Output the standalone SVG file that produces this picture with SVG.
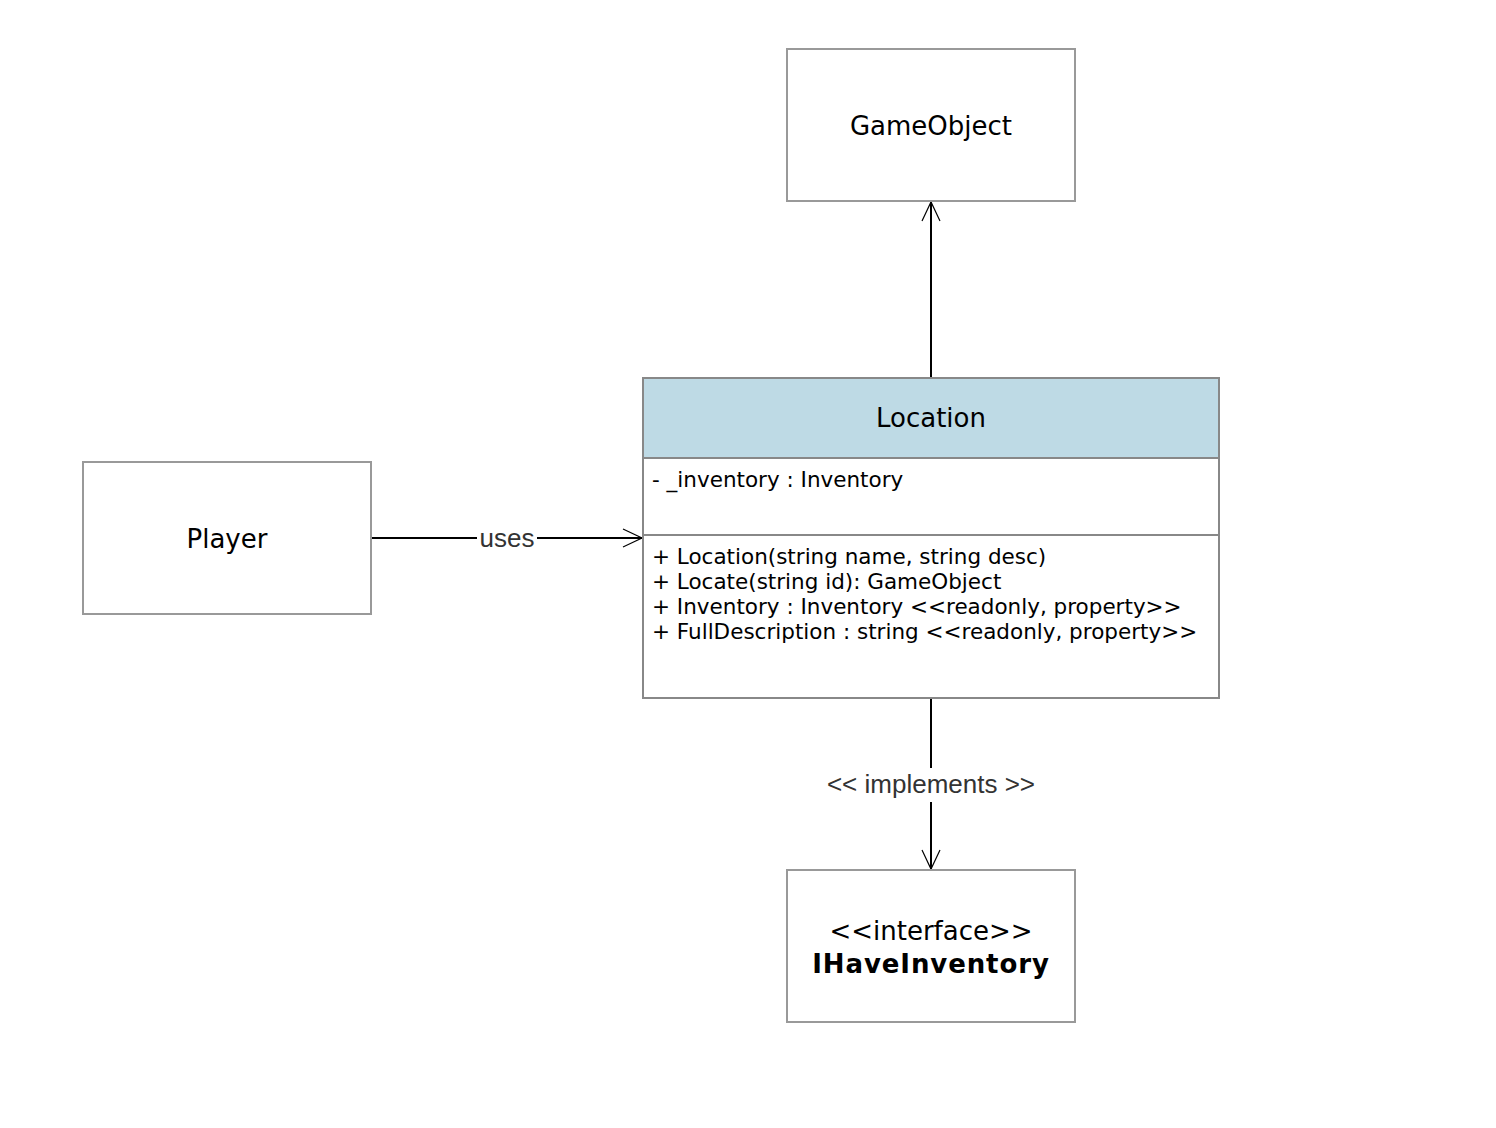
<svg xmlns="http://www.w3.org/2000/svg" width="1496" height="1128" viewBox="0 0 1496 1128">
<style>
  .box{fill:#fff;stroke:#999;stroke-width:2}
  .cls{fill:#fff;stroke:#888;stroke-width:2}
  .hdr{fill:#bedae5;stroke:#888;stroke-width:2}
  .title{font-family:"DejaVu Sans",Verdana,sans-serif;font-size:26px;fill:#000;text-anchor:middle}
  .mem{font-family:"DejaVu Sans",Verdana,sans-serif;font-size:21.5px;fill:#000}
  .lbl{font-family:"Liberation Sans",Arial,sans-serif;font-size:26px;fill:#333;text-anchor:middle}
  .edge{stroke:#000;stroke-width:2;fill:none}
</style>
<defs>
  <marker id="open" markerUnits="userSpaceOnUse" markerWidth="24" markerHeight="24" viewBox="-20 -12 24 24" refX="0" refY="0" orient="auto">
    <path d="M-19,-9 L0,0 L-19,9" fill="none" stroke="#000" stroke-width="1.2"/>
  </marker>
</defs>
<rect width="1496" height="1128" fill="#fff"/>
<g id="connectors">
  <line class="edge" x1="931" y1="378" x2="931" y2="202" stroke="#333" marker-end="url(#open)"/>
  <line class="edge" x1="371" y1="538" x2="642" y2="538" marker-end="url(#open)"/>
  <rect x="477" y="524" width="60" height="28" fill="#fff"/>
  <text class="lbl" x="507" y="547">uses</text>
  <line class="edge" x1="931" y1="698" x2="931" y2="869" marker-end="url(#open)"/>
  <rect x="822" y="768" width="218" height="34" fill="#fff"/>
  <text class="lbl" x="931" y="793">&lt;&lt; implements &gt;&gt;</text>
</g>
<g id="GameObject">
  <rect class="box" x="787" y="49" width="288" height="152"/>
  <text class="title" x="931" y="135">GameObject</text>
</g>
<g id="Player">
  <rect class="box" x="83" y="462" width="288" height="152"/>
  <text class="title" x="227" y="548">Player</text>
</g>
<g id="Location">
  <rect class="cls" x="643" y="378" width="576" height="320"/>
  <rect class="hdr" x="643" y="378" width="576" height="80"/>
  <text class="title" x="931" y="427">Location</text>
  <line x1="643" y1="535" x2="1219" y2="535" stroke="#888" stroke-width="2"/>
  <text class="mem" x="652" y="487">- _inventory : Inventory</text>
  <text class="mem" x="652" y="564">+ Location(string name, string desc)</text>
  <text class="mem" x="652" y="589">+ Locate(string id): GameObject</text>
  <text class="mem" x="652" y="614">+ Inventory : Inventory &lt;&lt;readonly, property&gt;&gt;</text>
  <text class="mem" x="652" y="639">+ FullDescription : string &lt;&lt;readonly, property&gt;&gt;</text>
</g>
<g id="IHaveInventory">
  <rect class="box" x="787" y="870" width="288" height="152"/>
  <text class="title" x="931" y="940">&lt;&lt;interface&gt;&gt;</text>
  <text class="title" x="931" y="973" font-weight="bold" letter-spacing="0.9">IHaveInventory</text>
</g>
</svg>
